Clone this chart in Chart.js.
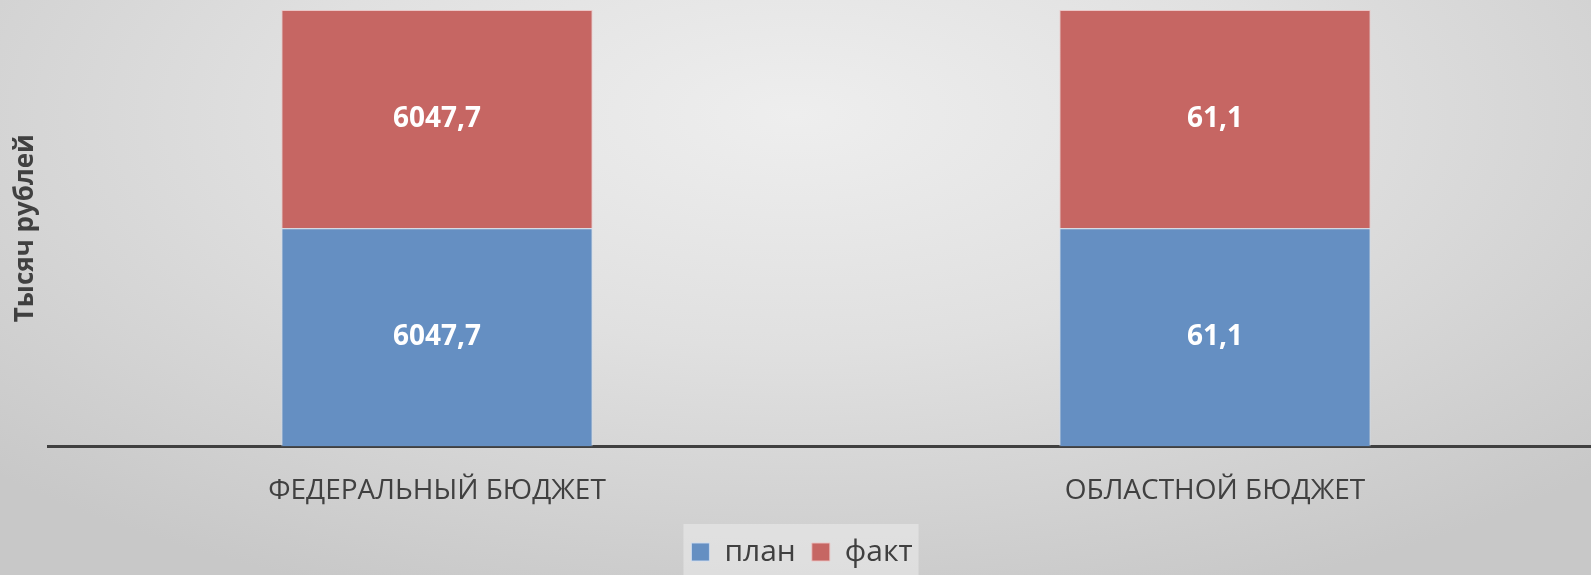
<!DOCTYPE html>
<html>
<head>
<meta charset="utf-8">
<script src="https://cdn.jsdelivr.net/npm/chart.js@4.4.0/dist/chart.umd.min.js"></script>
<style>
    html, body {
        margin: 0;
        padding: 0;
        width: 1591px;
        height: 575px;
        overflow: hidden;
    }
    body {
        background: radial-gradient(ellipse 70% 90% at 50% 20%, #eeeeee 0%, #e0e0e0 45%, #c8c8c8 100%);
    }
    /* plot area runs a little past the right edge, like the original slide crop */
    #wrap {
        position: relative;
        width: 1604px;
        height: 581px;
    }
</style>
</head>
<body>
<div id="wrap"><canvas id="budgetChart"></canvas></div>
<script>
const categories = ['ФЕДЕРАЛЬНЫЙ БЮДЖЕТ', 'ОБЛАСТНОЙ БЮДЖЕТ'];
const planValues = [6047.7, 61.1];
const factValues = [6047.7, 61.1];
const seriesNames = ['план', 'факт'];
const yTitle = 'Тысяч рублей';

// 100% stacked: share of each series inside its category
const totals = categories.map((c, i) => planValues[i] + factValues[i]);
const planShare = planValues.map((v, i) => v / totals[i] * 100);
const factShare = factValues.map((v, i) => v / totals[i] * 100);

const textColor = '#404040';

function fmt(v) {
    return v.toFixed(1).replace('.', ',');
}

// white value labels in the middle of each segment
const valueLabels = {
    id: 'valueLabels',
    afterDatasetsDraw(chart) {
        const ctx = chart.ctx;
        const raw = [planValues, factValues];
        ctx.save();
        ctx.fillStyle = '#ffffff';
        ctx.font = 'bold 28px "Open Sans"';
        ctx.textAlign = 'center';
        ctx.textBaseline = 'middle';
        chart.data.datasets.forEach((ds, di) => {
            chart.getDatasetMeta(di).data.forEach((bar, i) => {
                const mid = (bar.y + bar.base) / 2;
                ctx.fillText(fmt(raw[di][i]), bar.x, mid);
            });
        });
        ctx.restore();
    }
};

// light panel behind the legend
const legendPanel = {
    id: 'legendPanel',
    beforeDraw(chart) {
        const boxes = chart.legend && chart.legend.legendHitBoxes;
        if (!boxes || !boxes.length) return;
        const first = boxes[0];
        const last = boxes[boxes.length - 1];
        const ctx = chart.ctx;
        const x0 = first.left - 8;
        const x1 = last.left + last.width + 6;
        ctx.save();
        ctx.fillStyle = 'rgba(240,240,240,0.5)';
        ctx.fillRect(x0, first.top - 13, x1 - x0, chart.height - first.top + 13);
        ctx.restore();
    }
};

const ctx = document.getElementById('budgetChart').getContext('2d');
const budgetChart = new Chart(ctx, {
    type: 'bar',
    data: {
        labels: categories,
        datasets: [{
            label: seriesNames[0],
            data: planShare,
            backgroundColor: '#658fc2',
            borderColor: 'rgba(205,220,240,0.9)',
            borderWidth: 1
        }, {
            label: seriesNames[1],
            data: factShare,
            backgroundColor: '#c66663',
            borderColor: 'rgba(235,195,195,0.9)',
            borderWidth: 1
        }]
    },
    options: {
        responsive: true,
        maintainAspectRatio: false,
        animation: false,
        layout: {
            padding: { top: 10, right: 0, bottom: 4, left: 0 }
        },
        datasets: {
            bar: {
                barPercentage: 0.4,
                categoryPercentage: 1.0
            }
        },
        scales: {
            x: {
                stacked: true,
                grid: { display: false },
                border: { display: true, color: '#404040', width: 3 },
                ticks: {
                    color: textColor,
                    font: { family: 'Open Sans', size: 28 },
                    padding: 20,
                    maxRotation: 0
                },
                afterFit(scale) {
                    scale.height = scale.height - 7;
                }
            },
            y: {
                stacked: true,
                min: 0,
                max: 100,
                grid: { display: false },
                border: { display: false },
                ticks: { display: false },
                title: {
                    display: true,
                    text: yTitle,
                    color: textColor,
                    font: { family: 'Open Sans', size: 26, weight: 'bold' },
                    padding: { top: 10, bottom: 10 }
                },
                afterFit(scale) {
                    scale.width = 48;
                }
            }
        },
        plugins: {
            legend: {
                position: 'bottom',
                labels: {
                    color: textColor,
                    boxWidth: 18,
                    boxHeight: 18,
                    padding: 16,
                    font: { family: 'Open Sans', size: 30 }
                }
            },
            tooltip: { enabled: false }
        }
    },
    plugins: [valueLabels, legendPanel]
});
</script>
</body>
</html>
